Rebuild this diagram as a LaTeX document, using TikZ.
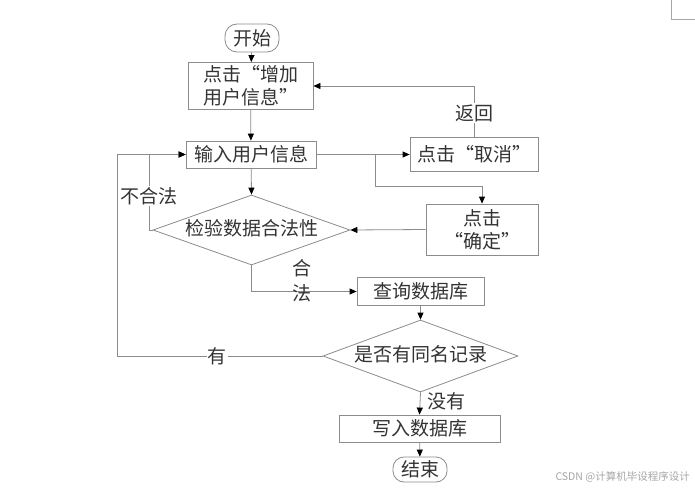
\documentclass[tikz,border=0pt]{standalone}
\usepackage{fontspec}
\newfontfamily\cjk{Noto Sans CJK SC}
\usetikzlibrary{arrows.meta,shapes.geometric}
\definecolor{lncol}{HTML}{8C8C8C}
\definecolor{txcol}{HTML}{333333}
\tikzset{
  every node/.style={font=\cjk\fontsize{19}{23}\selectfont, text=txcol},
  boxst/.style={draw=lncol, line width=0.8pt, inner sep=0pt, align=center},
  termst/.style={draw=lncol, line width=0.8pt, inner sep=0pt, rounded corners=12pt},
  decst/.style={draw=lncol, line width=0.8pt, diamond, inner sep=0pt, aspect=2.8, text height=13pt, text depth=3pt},
  lnst/.style={draw=lncol, line width=0.8pt},
  arr/.style={lnst, -{Triangle[length=7pt,width=6pt,color=black,fill=black]}},
  lblst/.style={fill=white, inner sep=1pt},
}
\begin{document}
\begin{tikzpicture}[x=1pt,y=-1pt]
\useasboundingbox (0,0) rectangle (695,492);
\fill[white] (0,0) rectangle (695,492);
\draw[draw=gray!70, line width=0.8pt] (671,0) -- (671,19) -- (695,19);
\node[termst, minimum width=54pt, minimum height=28pt] (start) at (252,38) {开始};
\node[boxst, minimum width=125pt, minimum height=47pt] (add) at (250.5,86) {点击“增加\\用户信息”};
\node[boxst, minimum width=130pt, minimum height=27pt] (input) at (251,154.5) {输入用户信息};
\node[boxst, minimum width=128pt, minimum height=34pt] (cancel) at (474,154.5) {点击“取消”};
\node[boxst, minimum width=112pt, minimum height=51pt] (ok) at (482,229.5) {点击\\“确定”};
\node[decst, minimum width=197pt, minimum height=70pt] (check) at (251.5,230) {检验数据合法性};
\node[boxst, minimum width=127pt, minimum height=28pt] (query) at (420.5,291.5) {查询数据库};
\node[decst, minimum width=195pt, minimum height=72pt] (same) at (420.5,356) {是否有同名记录};
\node[boxst, minimum width=161pt, minimum height=27pt] (write) at (419.5,428.5) {写入数据库};
\node[termst, minimum width=54pt, minimum height=25pt, rounded corners=11pt] (end) at (420,469.5) {结束};

\coordinate (j1) at (375,154.5);
\coordinate (j2) at (375,186);
\coordinate (l1) at (149,230);
\coordinate (l2) at (117,356);

\draw[arr] (start) -- (add);
\draw[arr] (add) -- (input);
\draw[arr] (input) -- (cancel);
\draw[lnst] (j1) -- (j2);
\draw[arr] (j2) -| (ok.north);
\draw[arr] (cancel.north) |- (add.east);
\draw[arr] (ok.west) -- (check.east);
\draw[arr] (input) -- (check.north);
\draw[arr] (check.west) -- (l1) |- (input.west);
\draw[arr] (same.west) -- (l2) |- (input.west);
\draw[arr] (check.south) |- (query.west);
\draw[arr] (query) -- (same.north);
\draw[arr] (same.south) -- (write.north);
\draw[arr] (write) -- (end);

\node[lblst] (lback) at (474,113) {返回};
\node[lblst] (lbad) at (149,196) {不合法};
\node[inner sep=1pt, align=center, font=\cjk\fontsize{19}{25}\selectfont] (lgood) at (302,281) {合\\法};
\node[lblst] (lyes) at (217,356) {有};
\node[inner sep=1pt] (lno) at (446,401) {没有};
\node[anchor=east, inner sep=0pt, text=gray!70, font=\cjk\fontsize{10.5}{12}\selectfont] (wm) at (690,477) {CSDN @计算机毕设程序设计};
\end{tikzpicture}
\end{document}
